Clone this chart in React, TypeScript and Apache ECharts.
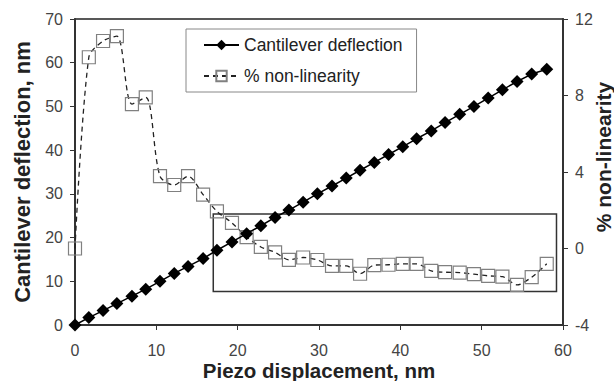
import React, { useEffect, useRef } from "react";
import * as echarts from "echarts";

const displacement = [0, 1.7, 3.45, 5.15, 7.0, 8.7, 10.45, 12.2, 13.9, 15.75, 17.45, 19.3, 21.1, 22.85, 24.6, 26.3, 28.05, 29.8, 31.6, 33.35, 35.05, 36.8, 38.55, 40.3, 42.0, 43.8, 45.5, 47.3, 49.05, 50.8, 52.55, 54.35, 56.15, 58.0];
const deflection = [0, 1.7, 3.3, 4.9, 6.6, 8.2, 10.0, 11.8, 13.4, 15.2, 17.1, 19.0, 20.9, 22.7, 24.6, 26.3, 28.1, 30.0, 31.8, 33.6, 35.4, 37.2, 39.0, 40.8, 42.6, 44.4, 46.3, 48.2, 50.0, 51.9, 53.8, 55.7, 57.4, 58.5];
const nonLinearity = [0.0, 10.0, 10.85, 11.1, 7.55, 7.9, 3.78, 3.32, 3.78, 2.82, 1.94, 1.34, 0.6, 0.08, -0.2, -0.59, -0.47, -0.6, -0.91, -0.91, -1.32, -0.87, -0.85, -0.8, -0.8, -1.17, -1.24, -1.26, -1.34, -1.43, -1.47, -1.9, -1.5, -0.8];
const boxX = [17.0, 59.2];
const boxY = [1.81, -2.25];
const seriesNames = ["Cantilever deflection", "% non-linearity"];

const FONT = "Liberation Sans, Arial, sans-serif";

export default function App() {
  const ref = useRef<HTMLDivElement>(null);
  useEffect(() => {
    if (!ref.current) return;
    const chart = echarts.init(ref.current, undefined, { renderer: "svg" });
    const defData = displacement.map((x, i) => [x, deflection[i]]);
    const nlData = displacement.map((x, i) => [x, nonLinearity[i]]);
    chart.setOption({
      animation: false,
      backgroundColor: "#ffffff",
      textStyle: { fontFamily: FONT },
      grid: {
        left: 75,
        right: 51,
        top: 19,
        bottom: 56,
        outerBoundsMode: "none",
        containLabel: false,
        show: true,
        borderColor: "#222",
        borderWidth: 1.5,
      },
      legend: {
        left: 186,
        top: 29,
        orient: "vertical",
        data: seriesNames,
        itemWidth: 35,
        itemHeight: 13,
        itemGap: 13,
        padding: [7, 14, 7, 17],
        borderColor: "#888",
        borderWidth: 1,
        backgroundColor: "#fff",
        textStyle: { fontFamily: FONT, fontSize: 17.5, color: "#222" },
      },
      xAxis: {
        type: "value",
        min: 0,
        max: 60,
        interval: 10,
        name: "Piezo displacement, nm",
        nameLocation: "middle",
        nameGap: 35,
        nameMoveOverlap: false,
        nameTextStyle: { fontFamily: FONT, fontSize: 20.5, fontWeight: "bold", color: "#222" },
        axisLine: { show: true, lineStyle: { color: "#333", width: 2 } },
        axisTick: { show: true, inside: false, length: 5, lineStyle: { color: "#333" } },
        axisLabel: { margin: 17, fontFamily: FONT, fontSize: 16, color: "#444" },
        splitLine: { show: false },
      },
      yAxis: [
        {
          type: "value",
          min: 0,
          max: 70,
          interval: 10,
          position: "left",
          name: "Cantilever deflection, nm",
          nameLocation: "middle",
          nameRotate: 90,
          nameGap: 42,
          nameMoveOverlap: false,
          nameTextStyle: { fontFamily: FONT, fontSize: 22, fontWeight: "bold", color: "#222" },
          axisLine: { show: true, lineStyle: { color: "#333", width: 2 } },
          axisTick: { show: true, inside: false, length: 5, lineStyle: { color: "#333" } },
          axisLabel: { margin: 12, fontFamily: FONT, fontSize: 16, color: "#444" },
          splitLine: { show: false },
        },
        {
          type: "value",
          min: -4,
          max: 12,
          interval: 4,
          position: "right",
          name: "% non-linearity",
          nameLocation: "middle",
          nameRotate: 90,
          nameGap: 30,
          nameMoveOverlap: false,
          nameTextStyle: { fontFamily: FONT, fontSize: 21, fontWeight: "bold", color: "#222", padding: [0, 0, 0, 30] },
          axisLine: { show: true, lineStyle: { color: "#333", width: 2 } },
          axisTick: { show: true, inside: false, length: 5, lineStyle: { color: "#333" } },
          axisLabel: { margin: 12, fontFamily: FONT, fontSize: 16, color: "#444" },
          splitLine: { show: false },
        },
      ],
      series: [
        {
          name: seriesNames[1],
          type: "line",
          yAxisIndex: 1,
          data: nlData,
          smooth: 0.3,
          symbol: "rect",
          symbolSize: 13,
          z: 2,
          itemStyle: { color: "rgba(255,255,255,0)", borderColor: "#808080", borderWidth: 1.2 },
          lineStyle: { color: "#222", width: 1.3, type: [5, 4] },
          markArea: {
            silent: true,
            itemStyle: { color: "rgba(0,0,0,0)", borderColor: "#333", borderWidth: 1.5 },
            data: [[{ coord: [boxX[0], boxY[0]] }, { coord: [boxX[1], boxY[1]] }]],
          },
        },
        {
          name: seriesNames[0],
          type: "line",
          yAxisIndex: 0,
          data: defData,
          symbol: "diamond",
          symbolSize: 13,
          z: 3,
          itemStyle: { color: "#000" },
          lineStyle: { color: "#000", width: 1.5 },
        },
      ],
    });
    return () => chart.dispose();
  }, []);
  return <div ref={ref} style={{ width: 614, height: 381, position: "absolute", left: 0, top: 0 }} />;
}
